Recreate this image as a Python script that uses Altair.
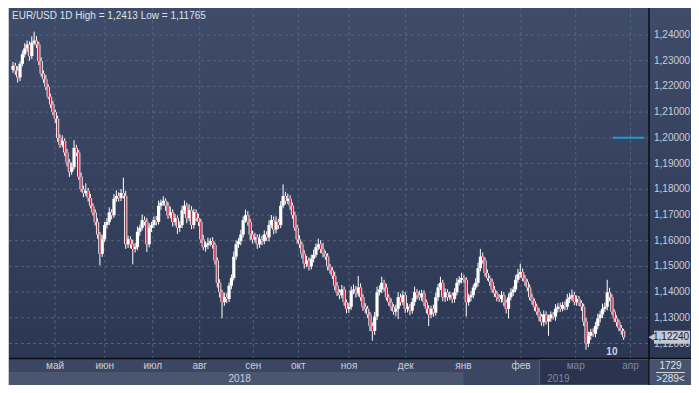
import altair as alt
import pandas as pd

# ---------------- data ----------------
title_text = "EUR/USD 1D High = 1,2413 Low = 1,11765"

first_open = 1.2265
closes = [
    1.2280, 1.2261, 1.2235, 1.2288, 1.2325, 1.2348, 1.2363, 1.2318, 1.2370, 1.2378,
    1.2363, 1.2299, 1.2250, 1.2228, 1.2198, 1.2160, 1.2130, 1.2100, 1.2074, 1.1999,
    1.1973, 1.1988, 1.1943, 1.1905, 1.1868, 1.1886, 1.1961, 1.1943, 1.1849, 1.1800,
    1.1785, 1.1793, 1.1766, 1.1736, 1.1710, 1.1673, 1.1624, 1.1549, 1.1605, 1.1661,
    1.1673, 1.1710, 1.1699, 1.1763, 1.1774, 1.1766, 1.1785, 1.1774, 1.1586, 1.1605,
    1.1586, 1.1568, 1.1575, 1.1635, 1.1650, 1.1680, 1.1673, 1.1586, 1.1650, 1.1661,
    1.1680, 1.1673, 1.1736, 1.1748, 1.1755, 1.1736, 1.1699, 1.1710, 1.1673, 1.1688,
    1.1650, 1.1661, 1.1718, 1.1736, 1.1688, 1.1718, 1.1661, 1.1710, 1.1688, 1.1673,
    1.1605, 1.1575, 1.1583, 1.1590, 1.1598, 1.1583, 1.1523, 1.1436, 1.1399, 1.1361,
    1.1380, 1.1373, 1.1425, 1.1455, 1.1538, 1.1586, 1.1598, 1.1624, 1.1680, 1.1699,
    1.1673, 1.1624, 1.1605, 1.1613, 1.1586, 1.1605, 1.1598, 1.1624, 1.1613, 1.1661,
    1.1680, 1.1643, 1.1673, 1.1661, 1.1736, 1.1774, 1.1755, 1.1763, 1.1736, 1.1699,
    1.1650, 1.1605, 1.1586, 1.1549, 1.1511, 1.1523, 1.1500, 1.1530, 1.1545, 1.1575,
    1.1586, 1.1568, 1.1549, 1.1538, 1.1500, 1.1485, 1.1463, 1.1425, 1.1399, 1.1388,
    1.1410, 1.1361, 1.1335, 1.1343, 1.1406, 1.1410, 1.1395, 1.1418, 1.1380, 1.1343,
    1.1335, 1.1313, 1.1268, 1.1249, 1.1305, 1.1399, 1.1410, 1.1436, 1.1418, 1.1380,
    1.1361, 1.1343, 1.1324, 1.1335, 1.1380, 1.1361, 1.1388, 1.1335, 1.1343, 1.1328,
    1.1361, 1.1399, 1.1388, 1.1380, 1.1395, 1.1361, 1.1335, 1.1313, 1.1335, 1.1320,
    1.1380, 1.1418, 1.1436, 1.1380, 1.1399, 1.1380, 1.1388, 1.1373, 1.1399, 1.1436,
    1.1448, 1.1455, 1.1448, 1.1361, 1.1380, 1.1388, 1.1418, 1.1436, 1.1493, 1.1538,
    1.1523, 1.1474, 1.1455, 1.1440, 1.1410, 1.1395, 1.1380, 1.1373, 1.1388, 1.1361,
    1.1335, 1.1380, 1.1399, 1.1410, 1.1448, 1.1470, 1.1478, 1.1455, 1.1440, 1.1418,
    1.1380, 1.1365, 1.1343, 1.1324, 1.1305, 1.1283, 1.1313, 1.1286, 1.1298, 1.1313,
    1.1305, 1.1335, 1.1343, 1.1335, 1.1350, 1.1343, 1.1373, 1.1380, 1.1388, 1.1361,
    1.1373, 1.1358, 1.1343, 1.1286, 1.1200, 1.1230, 1.1245, 1.1238, 1.1268, 1.1298,
    1.1313, 1.1335, 1.1343, 1.1399, 1.1380, 1.1324, 1.1298, 1.1283, 1.1260, 1.1249, 1.1224,
]
# wick lengths in pips (0.0001) above the body top and below the body bottom
upper_wick_pips = [
    15, 12, 18, 10, 14, 20, 16, 12, 25, 35, 18, 10, 14, 12, 16, 10, 12, 14, 10, 12,
    15, 22, 10, 14, 12, 18, 30, 12, 10, 16, 14, 30, 12, 16, 10, 12, 14, 10, 18, 12,
    15, 20, 12, 18, 22, 14, 16, 60, 20, 14, 12, 18, 16, 20, 12, 22, 14, 16, 18, 12,
    14, 16, 20, 12, 18, 10, 14, 22, 12, 16, 10, 14, 18, 20, 12, 24, 16, 14, 12, 16,
    12, 18, 14, 22, 12, 16, 10, 12, 14, 10, 18, 16, 12, 14, 20, 16, 12, 18, 14, 22,
    16, 12, 14, 18, 12, 20, 14, 16, 12, 18, 20, 14, 22, 12, 18, 45, 16, 20, 14, 12,
    14, 12, 16, 10, 14, 18, 12, 16, 20, 14, 22, 16, 24, 12, 14, 10, 12, 16, 14, 12,
    18, 12, 10, 14, 16, 20, 14, 45, 16, 12, 14, 12, 10, 14, 18, 22, 16, 24, 12, 14,
    12, 14, 10, 16, 20, 14, 18, 12, 14, 10, 16, 22, 12, 18, 14, 12, 10, 14, 12, 16,
    18, 14, 24, 12, 16, 12, 14, 10, 16, 18, 14, 20, 12, 10, 14, 16, 12, 18, 22, 30,
    16, 12, 14, 10, 12, 14, 10, 12, 16, 12, 10, 14, 16, 12, 18, 20, 33, 14, 12, 10,
    12, 14, 10, 12, 14, 10, 16, 12, 14, 12, 10, 18, 14, 16, 12, 14, 20, 16, 22, 12,
    14, 12, 10, 12, 14, 16, 12, 14, 16, 18, 14, 20, 16, 49, 18, 12, 10, 12, 10, 12, 8,
]
lower_wick_pips = [
    12, 16, 20, 14, 10, 12, 14, 18, 12, 10, 14, 16, 12, 14, 12, 10, 14, 12, 16, 14,
    12, 10, 14, 16, 20, 12, 10, 14, 12, 10, 16, 12, 14, 10, 12, 14, 16, 45, 12, 10,
    14, 12, 16, 10, 12, 14, 12, 10, 18, 14, 16, 60, 14, 12, 16, 10, 14, 30, 12, 16,
    12, 14, 10, 16, 12, 20, 14, 12, 18, 14, 24, 16, 12, 14, 20, 12, 16, 14, 12, 16,
    14, 12, 18, 16, 12, 14, 16, 18, 20, 63, 14, 16, 12, 14, 10, 12, 14, 16, 12, 10,
    14, 22, 16, 12, 18, 14, 16, 12, 14, 16, 12, 18, 14, 16, 12, 10, 14, 12, 16, 14,
    12, 16, 14, 18, 20, 14, 16, 12, 14, 10, 12, 16, 14, 12, 16, 14, 12, 18, 14, 16,
    12, 14, 18, 16, 12, 14, 16, 12, 14, 16, 18, 14, 20, 38, 16, 14, 12, 14, 16, 12,
    14, 16, 12, 18, 40, 14, 12, 16, 14, 18, 12, 14, 16, 12, 14, 16, 18, 45, 14, 16,
    12, 14, 10, 16, 18, 14, 12, 16, 14, 12, 10, 14, 12, 56, 14, 16, 12, 10, 14, 12,
    12, 14, 10, 16, 12, 14, 16, 12, 14, 16, 18, 37, 12, 14, 10, 12, 14, 12, 16, 14,
    12, 14, 16, 12, 18, 14, 16, 12, 56, 14, 12, 16, 14, 12, 10, 14, 12, 16, 14, 12,
    14, 12, 16, 18, 24, 14, 16, 12, 14, 12, 16, 14, 12, 14, 16, 12, 14, 16, 12, 14, 10,
]

month_names = ["май", "июн", "июл", "авг", "сен", "окт", "ноя", "дек", "янв", "фев", "мар", "апр"]
month_pos = [17.9, 39.1, 59.5, 79.5, 102.3, 121.5, 143.1, 167.2, 191.8, 216.3, 239.6, 262.9]

year_names = ["2018", "2019"]
year_label_pos = [96.5, 227.5]
year_2018_band = [-1.7, 191.8]
dim_box = [224.2, 270.8]

tick_values = [1.12, 1.13, 1.14, 1.15, 1.16, 1.17, 1.18, 1.19, 1.20, 1.21, 1.22, 1.23, 1.24]

level_value = [1.2000]
level_span = [255.4, 268.7]

marker_label = ["10"]
marker_pos = [255.0]
info_top = "1729"
info_bottom = ">289<"

# ---------------- tables ----------------
opens = [first_open] + closes[:-1]
highs = [max(o, c) + u / 10000 for o, c, u in zip(opens, closes, upper_wick_pips)]
lows = [min(o, c) - d / 10000 for o, c, d in zip(opens, closes, lower_wick_pips)]
df = pd.DataFrame({
    "i": list(range(len(closes))),
    "open": opens, "close": closes, "high": highs, "low": lows,
})
df["top"] = df[["open", "close"]].max(axis=1)
df["bot"] = df[["open", "close"]].min(axis=1)
df["down"] = (df["close"] < df["open"]).astype(int)

ticks_df = pd.DataFrame({"v": tick_values,
                         "label": [f"{v:.5f}".replace(".", ",") for v in tick_values]})
month_df = pd.DataFrame({"name": month_names, "pos": month_pos})
level_df = pd.DataFrame({"v": level_value, "x0": [level_span[0]], "x1": [level_span[1]]})
last_df = pd.DataFrame({"v": [closes[-1]], "label": [f"{closes[-1]:.5f}".replace(".", ",")]})
band_df = pd.DataFrame({"s": [year_2018_band[0]], "e": [year_2018_band[1]]})
dim_df = pd.DataFrame({"s": [dim_box[0]], "e": [dim_box[1]]})
y2018_df = pd.DataFrame({"name": [year_names[0]], "pos": [year_label_pos[0]]})
y2019_df = pd.DataFrame({"name": [year_names[1]], "pos": [year_label_pos[1]]})
marker_df = pd.DataFrame({"t": marker_label, "pos": marker_pos})
one = pd.DataFrame({"a": [1]})

# ---------------- styling ----------------
FONT = "Liberation Sans"
GRID = "#56627e"
RED = "#c3243f"
LABEL = "#c9ceda"
DIM = "#7f889e"
W, H = 640, 350

xs = alt.Scale(domain=[-1.7, 270.8], nice=False, zero=False)
ys = alt.Scale(domain=[1.11437, 1.2505], nice=False, zero=False)


def X(f):
    return alt.X(f, type="quantitative", scale=xs, axis=None)


def Y(f):
    return alt.Y(f, type="quantitative", scale=ys, axis=None)


grad = alt.LinearGradient(
    gradient="linear", x1=0, y1=0, x2=0, y2=1,
    stops=[alt.GradientStop(color="#3f4c69", offset=0),
           alt.GradientStop(color="#2c3753", offset=1)],
)

bg = alt.Chart(one).mark_rect(fill=grad).encode(
    x=alt.value(0), x2=alt.value(682), y=alt.value(0), y2=alt.value(H))

hgrid = alt.Chart(ticks_df).mark_rule(stroke=GRID, strokeDash=[3, 3], strokeWidth=1).encode(
    y=Y("v"), x=alt.value(0), x2=alt.value(W))
vgrid = alt.Chart(month_df).mark_rule(stroke=GRID, strokeDash=[3, 3], strokeWidth=1).encode(
    x=X("pos"), y=alt.value(0), y2=alt.value(H))

wick = alt.Chart(df).mark_rule(color="#ffffff", strokeWidth=1).encode(
    x=X("i"), y=Y("low"), y2="high")
body = alt.Chart(df).mark_rule(color="#ffffff", strokeWidth=3.2).encode(
    x=X("i"), y=Y("bot"), y2="top")
red = alt.Chart(df).transform_filter("datum.down == 1").mark_rule(color=RED, strokeWidth=1.5).encode(
    x=X("i"), y=Y("bot"), y2="top")

level = alt.Chart(level_df).mark_rule(color="#1e9bd8", strokeWidth=2).encode(
    x=X("x0"), x2="x1", y=Y("v"))

marker = alt.Chart(marker_df).mark_text(font=FONT, fontSize=10, fontWeight="bold",
                                        color="#cfd6e2", baseline="middle").encode(
    x=X("pos"), y=alt.value(344), text="t:N")

# bottom rows
bottom_base = alt.Chart(one).mark_rect(fill="#3b4762").encode(
    x=alt.value(0), x2=alt.value(W), y=alt.value(H), y2=alt.value(377))
band2018 = alt.Chart(band_df).mark_rect(fill="#4a5670").encode(
    x=X("s"), x2="e", y=alt.value(364), y2=alt.value(377))
dimbox = alt.Chart(dim_df).mark_rect(fill="#2a344e", stroke="#56627a", strokeWidth=1).encode(
    x=X("s"), x2="e", y=alt.value(H + 1.5), y2=alt.value(377))
divider = alt.Chart(one).mark_rule(color="#0a0d13", strokeWidth=1.5).encode(
    x=alt.value(0), x2=alt.value(682), y=alt.value(H + 0.5))

months = alt.Chart(month_df).mark_text(font=FONT, fontSize=10, baseline="middle").encode(
    x=X("pos"), y=alt.value(357.5), text="name:N",
    color=alt.condition("datum.pos > 224", alt.value(DIM), alt.value(LABEL)))
y2018 = alt.Chart(y2018_df).mark_text(font=FONT, fontSize=10, baseline="middle", color=LABEL).encode(
    x=X("pos"), y=alt.value(370.5), text="name:N")
y2019 = alt.Chart(y2019_df).mark_text(font=FONT, fontSize=10, baseline="middle", align="left",
                                      color=DIM).encode(
    x=X("pos"), y=alt.value(370.5), text="name:N")

# right axis
axis_line = alt.Chart(one).mark_rule(color="#0a0d13", strokeWidth=1.5).encode(
    x=alt.value(W), y=alt.value(0), y2=alt.value(377))
ylabels = alt.Chart(ticks_df).mark_text(font=FONT, fontSize=10, align="left", baseline="middle",
                                        color=LABEL).encode(
    x=alt.value(645), y=Y("v"), text="label:N")

info_box = alt.Chart(one).mark_rect(fill="#48546e").encode(
    x=alt.value(W + 1), x2=alt.value(682), y=alt.value(H + 1.3), y2=alt.value(377))
info1 = alt.Chart(one).mark_text(font=FONT, fontSize=10, baseline="middle", color="#dfe3ea",
                                 text=info_top).encode(x=alt.value(661.5), y=alt.value(357.5))
info_sep = alt.Chart(one).mark_rule(color="#cfd4de", strokeWidth=1).encode(
    x=alt.value(647), x2=alt.value(676), y=alt.value(364.5))
info2 = alt.Chart(one).mark_text(font=FONT, fontSize=10, baseline="middle", color="#dfe3ea",
                                 text=info_bottom).encode(x=alt.value(661.5), y=alt.value(371))

# last price tag
tag_rect = alt.Chart(last_df).mark_rule(color="#c4c8d0", strokeWidth=13).encode(
    x=alt.value(645), x2=alt.value(681), y=Y("v"))
tag_arrow = alt.Chart(last_df).mark_point(shape="triangle-left", filled=True, size=110,
                                          color="#c4c8d0", opacity=1).encode(
    x=alt.value(644), y=Y("v"))
tag_text = alt.Chart(last_df).mark_text(font=FONT, fontSize=10, align="left", baseline="middle",
                                        color="#1b2130").encode(
    x=alt.value(644), y=Y("v"), text="label:N")

title = alt.Chart(one).mark_text(font=FONT, fontSize=10, align="left", baseline="middle",
                                 color="#dde2ea", text=title_text).encode(
    x=alt.value(3), y=alt.value(8))

chart = alt.layer(
    bg, hgrid, vgrid, wick, body, red, level, marker,
    bottom_base, band2018, dimbox, divider, months, y2018, y2019,
    axis_line, ylabels, info_box, info1, info_sep, info2,
    tag_rect, tag_arrow, tag_text, title,
).properties(
    width=W, height=H,
    padding={"left": 1, "top": 0, "right": 42, "bottom": 27},
    autosize=alt.AutoSizeParams(type="none"),
    background="#c5c9d0",
).configure_view(stroke=None)

chart.save("out.html", embed_options={"renderer": "svg", "actions": False})
